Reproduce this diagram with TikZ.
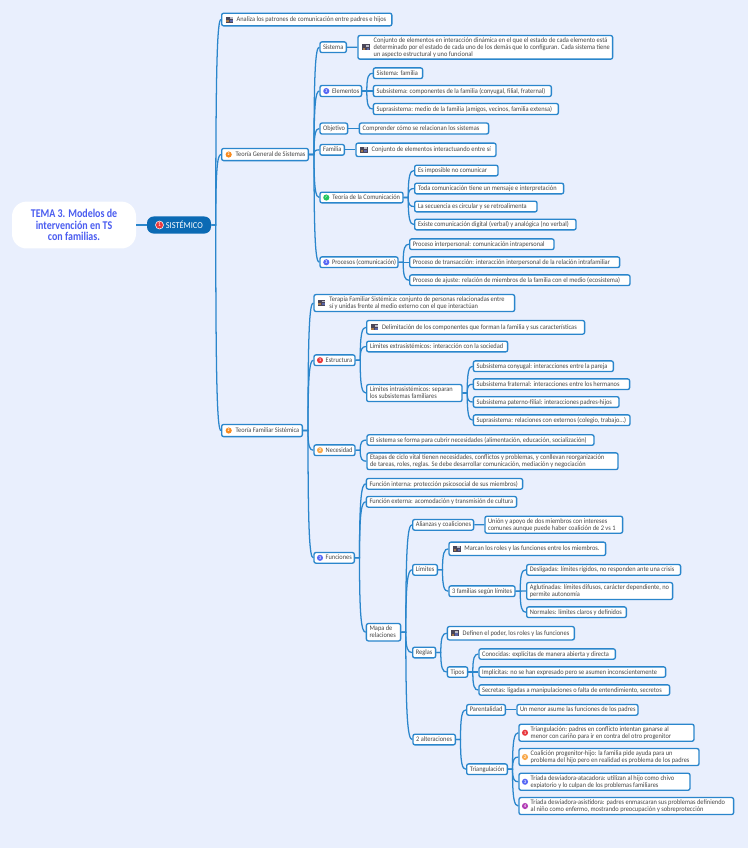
\documentclass[tikz,border=0pt]{standalone}
\usepackage{fontspec}
\setmainfont[FakeStretch=0.92]{Carlito}
\newfontfamily\rootfont[FakeStretch=0.84]{Carlito}
\newfontfamily\symfont{DejaVu Sans}
\usetikzlibrary{calc}
\definecolor{bgc}{HTML}{E9EFFD}
\definecolor{edge}{HTML}{2A86CC}
\definecolor{txt}{HTML}{474747}
\definecolor{pillc}{HTML}{0B6AB4}
\definecolor{rootc}{HTML}{4A5CF0}
\definecolor{redc}{HTML}{E8383D}
\definecolor{orc}{HTML}{F98A1E}
\definecolor{yelc}{HTML}{F9A94B}
\definecolor{bluc}{HTML}{5868F5}
\definecolor{grnc}{HTML}{22C55E}
\definecolor{purc}{HTML}{B23DB5}
\definecolor{noted}{HTML}{4A4658}
\definecolor{notet}{HTML}{A8794A}
\definecolor{noteg}{HTML}{B9B9C4}
\definecolor{noteb}{HTML}{5B66A8}
\tikzset{
  x=0.75pt,y=-0.75pt,
  tb/.style={draw=edge,fill=white,line width=1pt,rounded corners=1.5pt,inner xsep=0pt,inner ysep=0pt,text=txt,
    font=\fontsize{5.2}{5.25}\selectfont},
  link/.style={draw=edge,line width=0.95pt},
  mark dot/.style={circle,inner sep=0pt,minimum size=4.6pt,text=white,font=\bfseries\fontsize{3.2}{3.2}\selectfont},
}
\newcommand\bx[8][tb]{%
  \pgfmathsetlengthmacro\bw{(#4-#3)*0.75pt-1pt}%
  \pgfmathsetlengthmacro\bh{#6*0.75pt-1pt}%
  \pgfmathsetlengthmacro\bp{#7*0.75pt-0.5pt}%
  \node[#1,minimum width=\bw,minimum height=\bh,anchor=west] (#2) at (#3,#5)
    {\makebox[\bw][l]{\hspace*{\bp}\raisebox{-0.55pt}[\height][\depth]{\begin{tabular}{@{}l@{}}#8\end{tabular}}}};}
\newcommand\conn[3][4.5]{%
  \draw[link] let \p1=(#2.east),\p2=(#3.west),\n1={\x1+#1*0.75pt} in
    (\p1) -- (\n1,\y1) .. controls (\n1,{\y1+0.8*(\y2-\y1)}) and ({\n1+0.3*(\x2-\n1)},\y2) .. (\p2);}
\newcommand\noteic[2]{%
  \fill[fill=noted] (#1-3.8,#2-3) rectangle (#1+3.8,#2+3);
  \fill[fill=notet] (#1-3.2,#2+0.3) rectangle (#1-0.8,#2+2.4);
  \fill[fill=noteg] (#1+0.2,#2-2.4) rectangle (#1+3.2,#2-0.6);
  \fill[fill=noteb] (#1+0.6,#2+0.2) rectangle (#1+3.2,#2+2.4);}
\newcommand\mk[5]{\node[mark dot,fill=#4] (#1) at (#2,#3) {#5};}
\begin{document}
\begin{tikzpicture}
\useasboundingbox[fill=bgc] (0,0) rectangle (748,848);
\begin{scope}[yshift=-0.4pt]
% root
\node[fill=white,rounded corners=11pt,minimum width=93pt,minimum height=35.2pt,inner sep=0pt,align=center,
  text=rootc,font=\rootfont\bfseries\fontsize{8.9}{8.7}\selectfont] (root) at (74,224.5)
  {TEMA 3. Modelos de\\intervención en TS\\con familias.};
\node[fill=pillc,rounded corners=5pt,minimum width=48pt,minimum height=12.8pt,inner sep=0pt,text=white,
  font=\fontsize{6.8}{7}\selectfont] (sis) at (179,224.5) {\hspace*{8pt}SISTÉMICO};
\node[mark dot,fill=redc,draw=white,line width=0.4pt,minimum size=6pt,font=\fontsize{4.5}{4.5}\selectfont] (m0) at (159.5,224.5) {1};
% level 1
\bx{analiza}{221}{392.5}{19}{14}{15.7}{Analiza los patrones de comunicación entre padres e hijos}
\bx{tgs}{221}{309}{154}{13.5}{14.7}{Teoría General de Sistemas}
\bx{tfs}{221}{303}{430}{13.5}{14.7}{Teoría Familiar Sistémica}
% TGS
\bx{sistema}{319.3}{347}{46.7}{12}{3.8}{Sistema}
\bx{sisdef}{357.3}{613.3}{46.8}{25}{16.4}{Conjunto de elementos en interacción dinámica en el que el estado de cada elemento está\\determinado por el estado de cada uno de los demás que lo configuran. Cada sistema tiene\\un aspecto estructural y uno funcional}
\bx{elem}{319.3}{362.3}{90.5}{12.4}{12.7}{Elementos}
\bx{e1}{372.7}{423.3}{72.7}{12}{4}{Sistema: familia}
\bx{e2}{372.7}{552}{90.5}{12.4}{4}{Subsistema: componentes de la familia (conyugal, filial, fraternal)}
\bx{e3}{372.7}{559}{108.5}{12.4}{4}{Suprasistema: medio de la familia (amigos, vecinos, familia extensa)}
\bx{obj}{319.3}{348.3}{128}{12.3}{3.8}{Objetivo}
\bx{obj1}{358.7}{489.3}{128}{12.3}{4}{Comprender cómo se relacionan los sistemas}
\bx{fam}{319.3}{345}{149.3}{12}{3.8}{Familia}
\bx{fam1}{355.3}{496.7}{149.3}{14.7}{16.4}{Conjunto de elementos interactuando entre sí}
\bx{tcom}{319.3}{403.7}{197}{12}{13}{Teoría de la Comunicación}
\bx{c1}{414}{498.7}{170}{12}{4}{Es imposible no comunicar}
\bx{c2}{414}{564.3}{188}{12}{4}{Toda comunicación tiene un mensaje e interpretación}
\bx{c3}{414}{537.7}{206}{12}{4}{La secuencia es circular y se retroalimenta}
\bx{c4}{414}{576.7}{224}{12}{4}{Existe comunicación digital (verbal) y analógica (no verbal)}
\bx{proc}{319.3}{398.7}{261.7}{12}{12.7}{Procesos (comunicación)}
\bx{p1}{409}{554.7}{243.7}{12}{3.8}{Proceso interpersonal: comunicación intrapersonal}
\bx{p2}{409}{620.3}{261.7}{12}{3.8}{Proceso de transacción: interacción interpersonal de la relación intrafamiliar}
\bx{p3}{409}{630.7}{279.7}{12}{3.8}{Proceso de ajuste: relación de miembros de la familia con el medio (ecosistema)}
% TFS
\bx{terapia}{313.3}{515.3}{302.5}{18.3}{16}{Terapia Familiar Sistémica: conjunto de personas relacionadas entre\\sí y unidas frente al medio externo con el que interactúan}
\bx{estr}{313.3}{355.7}{359.7}{12}{12.4}{Estructura}
\bx{es1}{366}{585.3}{326.8}{15}{16}{Delimitación de los componentes que forman la familia y sus características}
\bx{es2}{366}{508.3}{346}{12}{4}{Límites extrasistémicos: interacción con la sociedad}
\bx{es3}{366}{462.7}{392.5}{18.4}{4}{Límites intrasistémicos: separan\\los subsistemas familiares}
\bx{s1}{472.7}{614}{365.7}{12}{4}{Subsistema conyugal: interacciones entre la pareja}
\bx{s2}{472.7}{630.3}{383.7}{12}{4}{Subsistema fraternal: interacciones entre los hermanos}
\bx{s3}{472.7}{619.7}{401.5}{12}{4}{Subsistema paterno-filial: interacciones padres-hijos}
\bx{s4}{472.7}{630.7}{419.7}{12}{4}{Suprasistema: relaciones con externos (colegio, trabajo...)}
\bx{nec}{313.3}{355.7}{449.7}{12}{12.4}{Necesidad}
\bx{n1}{366.3}{594.7}{439.5}{11.8}{3.8}{El sistema se forma para cubrir necesidades (alimentación, educación, socialización)}
\bx{n2}{366.3}{618.7}{460.7}{18}{3.8}{Etapas de ciclo vital tienen necesidades, conflictos y problemas, y conllevan reorganización\\de tareas, roles, reglas. Se debe desarrollar comunicación, mediación y negociación}
\bx{func}{313.3}{355}{557.3}{12}{12.4}{Funciones}
\bx{f1}{365.7}{523.3}{483.3}{12}{3.8}{Función interna: protección psicosocial de sus miembros)}
\bx{f2}{365.7}{517.3}{501.3}{12}{3.8}{Función externa: acomodación y transmisión de cultura}
\bx{mapa}{365.7}{401.3}{631.7}{18.7}{3.8}{Mapa de\\relaciones}
\bx{al}{412}{474.3}{524.3}{12}{3.8}{Alianzas y coaliciones}
\bx{al1}{484.3}{623.3}{524.2}{18.3}{3.8}{Unión y apoyo de dos miembros con intereses\\comunes aunque puede haber coalición de 2 vs 1}
\bx{lim}{412}{438}{569.3}{12}{3.8}{Límites}
\bx{lim1}{448.3}{606.3}{548.3}{14.7}{16}{Marcan los roles y las funciones entre los miembros.}
\bx{lim2}{448.3}{515.7}{590.7}{12}{3.8}{3 familias según límites}
\bx{d1}{526}{681.3}{569.3}{12}{3.8}{Desligadas: límites rígidos, no responden ante una crisis}
\bx{d2}{526}{673.3}{590.5}{18.3}{3.8}{Aglutinadas: límites difusos, carácter dependiente, no\\permite autonomía}
\bx{d3}{526}{627}{611.7}{12}{3.8}{Normales: límites claros y definidos}
\bx{reg}{412}{436.3}{652}{12}{3.8}{Reglas}
\bx{reg1}{446.7}{575}{632.7}{14.7}{16}{Definen el poder, los roles y las funciones}
\bx{tip}{446.7}{468.3}{671.5}{11.7}{3.8}{Tipos}
\bx{t1}{478.3}{616}{653.5}{11.7}{3.8}{Conocidas: explícitas de manera abierta y directa}
\bx{t2}{478.3}{666.3}{671.5}{11.7}{3.8}{Implícitas: no se han expresado pero se asumen inconscientemente}
\bx{t3}{478.3}{670.3}{689.5}{11.7}{3.8}{Secretas: ligadas a manipulaciones o falta de entendimiento, secretos}
\bx{alt}{412.3}{456}{739}{12}{3.8}{2 alteraciones}
\bx{par}{466}{506}{709.3}{12}{3.8}{Parentalidad}
\bx{par1}{516.3}{638.7}{709.3}{12}{3.8}{Un menor asume las funciones de los padres}
\bx{tri}{466}{508}{768.7}{12}{3.8}{Triangulación}
\bx{x1}{518.3}{694.7}{732.2}{18.3}{12.4}{Triangulación: padres en conflicto intentan ganarse al\\menor con cariño para ir en contra del otro progenitor}
\bx{x2}{518.3}{699.7}{756.5}{18.3}{12.4}{Coalición progenitor-hijo: la familia pide ayuda para un\\problema del hijo pero en realidad es problema de los padres}
\bx{x3}{518.3}{690.7}{781.2}{18.3}{12.4}{Tríada desviadora-atacadora: utilizan al hijo como chivo\\expiatorio y lo culpan de los problemas familiares}
\bx{x4}{518.3}{734.3}{805.5}{18.3}{12.4}{Tríada desviadora-asistidora: padres enmascaran sus problemas definiendo\\al niño como enfermo, mostrando preocupación y sobreprotección}
% icons
\noteic{229.5}{19}
\noteic{366}{46.8}
\noteic{363.8}{149.3}
\noteic{321.3}{302.5}
\noteic{374.5}{326.8}
\noteic{457}{548.3}
\noteic{454.8}{632.7}
\mk{m1}{228.7}{154}{orc}{2}
\mk{m2}{228.7}{430}{orc}{2}
\mk{m3}{326.3}{90.5}{bluc}{3}
\mk{m4}{326.3}{197}{grnc}{\symfont\char"2713}
\mk{m5}{326.3}{261.7}{bluc}{3}
\mk{m6}{320}{359.7}{redc}{1}
\mk{m7}{320}{449.7}{yelc}{2}
\mk{m8}{320}{557.3}{bluc}{3}
\mk{m9}{525}{732.2}{redc}{1}
\mk{m10}{525}{756.5}{yelc}{2}
\mk{m11}{525}{781.2}{bluc}{3}
\mk{m12}{525}{805.5}{purc}{4}
% connectors
\draw[link] (root.east) -- (sis.west);
\conn{sis}{analiza}\conn{sis}{tgs}\conn{sis}{tfs}
\conn[5]{tgs}{sistema}\conn[5]{tgs}{elem}\conn[5]{tgs}{obj}\conn[5]{tgs}{fam}\conn[5]{tgs}{tcom}\conn[5]{tgs}{proc}
\draw[link] (sistema.east) -- (sisdef.west);
\draw[link] (obj.east) -- (obj1.west);
\draw[link] (fam.east) -- (fam1.west);
\conn{elem}{e1}\conn{elem}{e2}\conn{elem}{e3}
\conn{tcom}{c1}\conn{tcom}{c2}\conn{tcom}{c3}\conn{tcom}{c4}
\conn{proc}{p1}\conn{proc}{p2}\conn{proc}{p3}
\conn[5]{tfs}{terapia}\conn[5]{tfs}{estr}\conn[5]{tfs}{nec}\conn[5]{tfs}{func}
\conn{estr}{es1}\conn{estr}{es2}\conn{estr}{es3}
\conn{es3}{s1}\conn{es3}{s2}\conn{es3}{s3}\conn{es3}{s4}
\conn{nec}{n1}\conn{nec}{n2}
\conn{func}{f1}\conn{func}{f2}\conn{func}{mapa}
\conn{mapa}{al}\conn{mapa}{lim}\conn{mapa}{reg}\conn{mapa}{alt}
\draw[link] (al.east) -- (al1.west);
\conn{lim}{lim1}\conn{lim}{lim2}
\conn{lim2}{d1}\conn{lim2}{d2}\conn{lim2}{d3}
\conn{reg}{reg1}\conn{reg}{tip}
\conn{tip}{t1}\conn{tip}{t2}\conn{tip}{t3}
\conn{alt}{par}\conn{alt}{tri}
\draw[link] (par.east) -- (par1.west);
\conn{tri}{x1}\conn{tri}{x2}\conn{tri}{x3}\conn{tri}{x4}
\end{scope}
\end{tikzpicture}
\end{document}
